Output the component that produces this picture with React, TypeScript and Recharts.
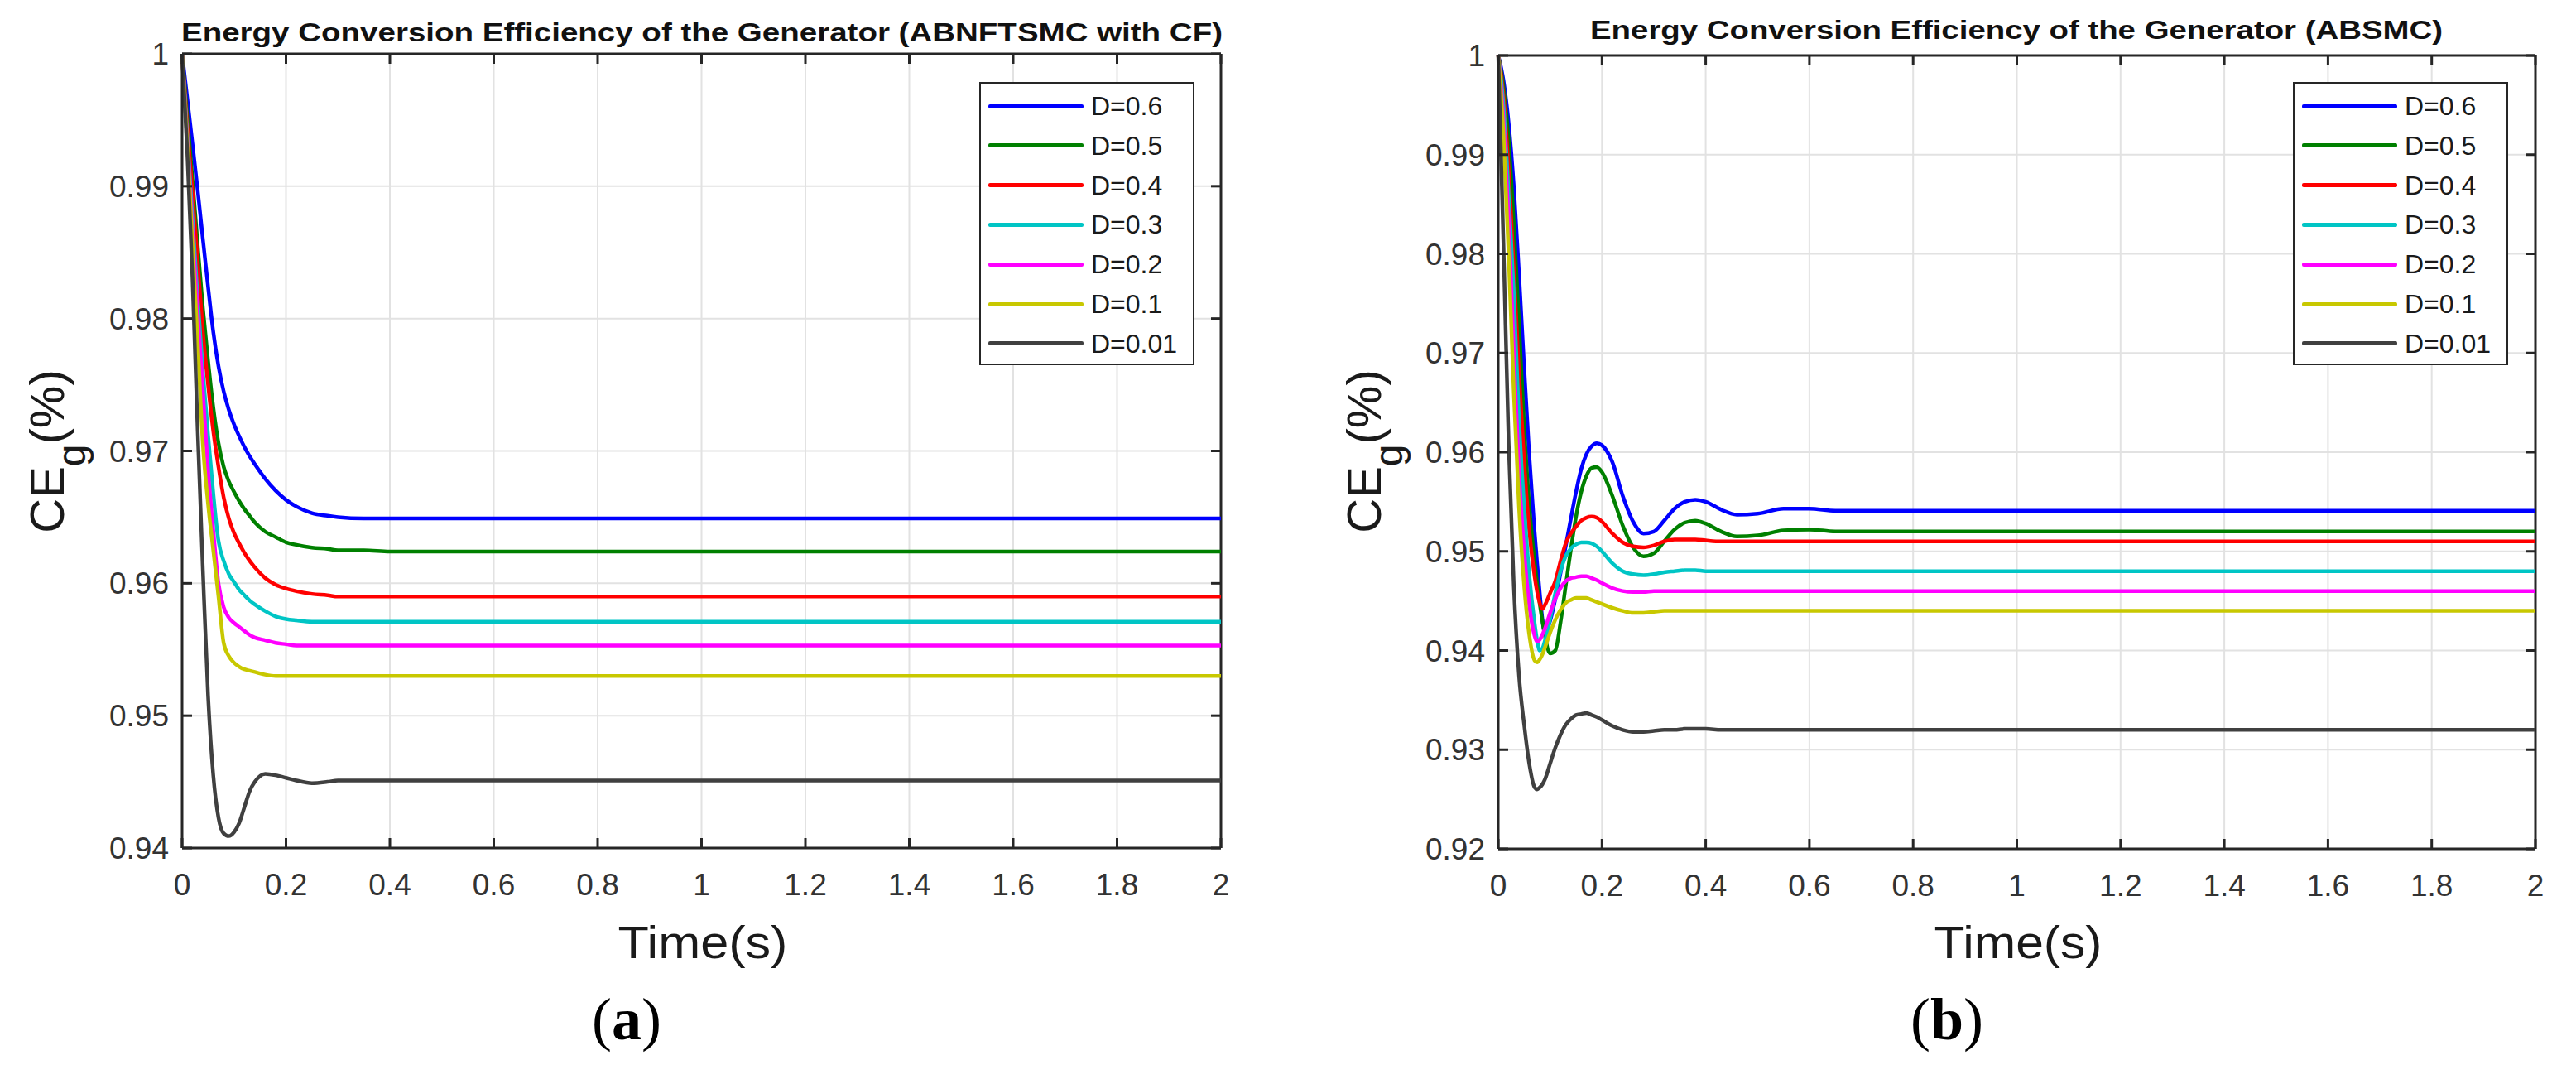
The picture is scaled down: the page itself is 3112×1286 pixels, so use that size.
import React from 'react';
import { LineChart, Line, XAxis, YAxis, CartesianGrid, Legend, ReferenceLine } from 'recharts';

// ---------- data ----------
const SERIES_NAMES = ['D=0.6', 'D=0.5', 'D=0.4', 'D=0.3', 'D=0.2', 'D=0.1', 'D=0.01'];
const SERIES_KEYS = ['d06', 'd05', 'd04', 'd03', 'd02', 'd01', 'd001'];
const SERIES_COLORS = ['#0000FF', '#008000', '#FF0000', '#00C5C5', '#FF00FF', '#C8C800', '#404040'];

const X_TICKS = [0, 0.2, 0.4, 0.6, 0.8, 1, 1.2, 1.4, 1.6, 1.8, 2];
const Y_TICKS_A = [0.94, 0.95, 0.96, 0.97, 0.98, 0.99, 1];
const Y_TICKS_B = [0.92, 0.93, 0.94, 0.95, 0.96, 0.97, 0.98, 0.99, 1];

// (a) ABNFTSMC with CF
const TIME_A = [0, 0.01, 0.02, 0.03, 0.04, 0.05, 0.06, 0.07, 0.08, 0.09, 0.1, 0.11, 0.12, 0.13, 0.14, 0.16, 0.18, 0.2, 0.22, 0.25, 0.28, 0.3, 0.35, 0.4, 0.5, 0.7, 1.0, 1.5, 2.0];
const A_D06 = [1, 0.9966, 0.9932, 0.9897, 0.986, 0.9824, 0.979, 0.9764, 0.9745, 0.9731, 0.972, 0.9711, 0.9703, 0.9696, 0.969, 0.9679, 0.967, 0.9663, 0.9658, 0.9653, 0.9651, 0.965, 0.9649, 0.9649, 0.9649, 0.9649, 0.9649, 0.9649, 0.9649];
const A_D05 = [1, 0.9952, 0.9905, 0.9855, 0.9808, 0.9768, 0.9733, 0.9706, 0.9688, 0.9677, 0.9669, 0.9662, 0.9656, 0.9651, 0.9646, 0.9639, 0.9635, 0.9631, 0.9629, 0.9627, 0.9626, 0.9625, 0.9625, 0.9624, 0.9624, 0.9624, 0.9624, 0.9624, 0.9624];
const A_D04 = [1, 0.9945, 0.9895, 0.9843, 0.979, 0.975, 0.9715, 0.9688, 0.9665, 0.9649, 0.9638, 0.963, 0.9623, 0.9617, 0.9612, 0.9604, 0.9599, 0.9596, 0.9594, 0.9592, 0.9591, 0.959, 0.959, 0.959, 0.959, 0.959, 0.959, 0.959, 0.959];
const A_D03 = [1, 0.9938, 0.9875, 0.9815, 0.976, 0.9712, 0.9668, 0.9632, 0.9617, 0.9607, 0.9601, 0.9595, 0.9591, 0.9587, 0.9584, 0.9579, 0.9575, 0.9573, 0.9572, 0.9571, 0.9571, 0.9571, 0.9571, 0.9571, 0.9571, 0.9571, 0.9571, 0.9571, 0.9571];
const A_D02 = [1, 0.9935, 0.9865, 0.9805, 0.9745, 0.9685, 0.964, 0.96, 0.9582, 0.9574, 0.957, 0.9567, 0.9564, 0.9561, 0.9559, 0.9557, 0.9555, 0.9554, 0.9553, 0.9553, 0.9553, 0.9553, 0.9553, 0.9553, 0.9553, 0.9553, 0.9553, 0.9553, 0.9553];
const A_D01 = [1, 0.9932, 0.9855, 0.9782, 0.9705, 0.966, 0.9625, 0.959, 0.9555, 0.9545, 0.954, 0.9537, 0.9535, 0.9534, 0.9533, 0.9531, 0.953, 0.953, 0.953, 0.953, 0.953, 0.953, 0.953, 0.953, 0.953, 0.953, 0.953, 0.953, 0.953];
const A_D001 = [1, 0.9925, 0.983, 0.9715, 0.961, 0.9515, 0.9455, 0.9423, 0.9411, 0.9409, 0.9412, 0.9419, 0.9431, 0.9443, 0.945, 0.9456, 0.9455, 0.9453, 0.9451, 0.9449, 0.945, 0.9451, 0.9451, 0.9451, 0.9451, 0.9451, 0.9451, 0.9451, 0.9451];

// (b) ABSMC
const TIME_B = [0, 0.01, 0.02, 0.03, 0.04, 0.05, 0.06, 0.07, 0.075, 0.08, 0.085, 0.09, 0.1, 0.11, 0.12, 0.13, 0.14, 0.15, 0.16, 0.17, 0.18, 0.19, 0.2, 0.22, 0.24, 0.26, 0.28, 0.3, 0.32, 0.34, 0.36, 0.38, 0.4, 0.43, 0.46, 0.5, 0.55, 0.6, 0.65, 0.7, 0.8, 1.0, 1.5, 2.0];
const B_D06 = [1, 0.9975, 0.9932, 0.9868, 0.978, 0.9685, 0.9595, 0.952, 0.9488, 0.9458, 0.9432, 0.9418, 0.943, 0.9452, 0.9478, 0.9505, 0.9533, 0.956, 0.9583, 0.9598, 0.9606, 0.9609, 0.9607, 0.959, 0.9556, 0.953, 0.9518, 0.952, 0.9531, 0.9543, 0.955, 0.9552, 0.955, 0.9542, 0.9537, 0.9538, 0.9543, 0.9543, 0.9541, 0.9541, 0.9541, 0.9541, 0.9541, 0.9541];
const B_D05 = [1, 0.9968, 0.9915, 0.983, 0.973, 0.9625, 0.9545, 0.949, 0.9467, 0.9447, 0.943, 0.9415, 0.9397, 0.94, 0.9428, 0.9465, 0.9502, 0.9535, 0.956, 0.9576, 0.9584, 0.9585, 0.958, 0.9556, 0.9526, 0.9504, 0.9495, 0.9498, 0.951, 0.9522, 0.9529, 0.9531, 0.9528, 0.952, 0.9515, 0.9516, 0.9521, 0.9522, 0.952, 0.952, 0.952, 0.952, 0.952, 0.952];
const B_D04 = [1, 0.996, 0.9885, 0.9785, 0.968, 0.959, 0.952, 0.9475, 0.9459, 0.9448, 0.9442, 0.9446, 0.9458, 0.947, 0.949, 0.9508, 0.9518, 0.9525, 0.9531, 0.9534, 0.9535, 0.9534, 0.953, 0.9518, 0.9509, 0.9505, 0.9504, 0.9506, 0.951, 0.9512, 0.9512, 0.9512, 0.9511, 0.951, 0.951, 0.951, 0.951, 0.951, 0.951, 0.951, 0.951, 0.951, 0.951, 0.951];
const B_D03 = [1, 0.995, 0.986, 0.976, 0.9633, 0.9545, 0.9475, 0.9428, 0.941, 0.94, 0.9402, 0.941, 0.9432, 0.9458, 0.948, 0.9495, 0.9503, 0.9507, 0.9509, 0.9509, 0.9508, 0.9505, 0.95, 0.9488, 0.948, 0.9477, 0.9476, 0.9477, 0.9479, 0.948, 0.9481, 0.9481, 0.948, 0.948, 0.948, 0.948, 0.948, 0.948, 0.948, 0.948, 0.948, 0.948, 0.948, 0.948];
const B_D02 = [1, 0.9935, 0.9835, 0.97, 0.958, 0.95, 0.9445, 0.9415, 0.9409, 0.9411, 0.9416, 0.9422, 0.9438, 0.9452, 0.9463, 0.947, 0.9473, 0.9474, 0.9475, 0.9475, 0.9473, 0.9471, 0.9468, 0.9463, 0.946, 0.9459, 0.9459, 0.946, 0.946, 0.946, 0.946, 0.946, 0.946, 0.946, 0.946, 0.946, 0.946, 0.946, 0.946, 0.946, 0.946, 0.946, 0.946, 0.946];
const B_D01 = [1, 0.992, 0.98, 0.966, 0.9545, 0.9465, 0.9415, 0.939, 0.9388, 0.9391, 0.9396, 0.9403, 0.9418, 0.9431, 0.9441, 0.9448, 0.9451, 0.9453, 0.9453, 0.9453, 0.9451, 0.9449, 0.9447, 0.9443, 0.944, 0.9438, 0.9438, 0.9439, 0.944, 0.944, 0.944, 0.944, 0.944, 0.944, 0.944, 0.944, 0.944, 0.944, 0.944, 0.944, 0.944, 0.944, 0.944, 0.944];
const B_D001 = [1, 0.981, 0.961, 0.9465, 0.9375, 0.9325, 0.9285, 0.9262, 0.926, 0.9262, 0.9265, 0.927, 0.9286, 0.9302, 0.9315, 0.9325, 0.9331, 0.9335, 0.9336, 0.9337, 0.9335, 0.9333, 0.933, 0.9324, 0.932, 0.9318, 0.9318, 0.9319, 0.932, 0.932, 0.9321, 0.9321, 0.9321, 0.932, 0.932, 0.932, 0.932, 0.932, 0.932, 0.932, 0.932, 0.932, 0.932, 0.932];

function buildRows(time: number[], series: number[][]) {
  return time.map((t, i) => {
    const row: Record<string, number> = { t };
    SERIES_KEYS.forEach((k, j) => {
      row[k] = series[j][i];
    });
    return row;
  });
}

const ROWS_A = buildRows(TIME_A, [A_D06, A_D05, A_D04, A_D03, A_D02, A_D01, A_D001]);
const ROWS_B = buildRows(TIME_B, [B_D06, B_D05, B_D04, B_D03, B_D02, B_D01, B_D001]);

// ---------- styling ----------
const FONT = '"Liberation Sans", Arial, Helvetica, sans-serif';
const SERIF = '"Liberation Serif", "Times New Roman", serif';
const AXIS = '#262626';
const TICK_FILL = '#333333';
const TICK_FONT = 37;
const TICK_LEN = 12;
const X_TICK_MARGIN = 31;
const Y_TICK_MARGIN = 16;

const renderLegend = (props: any) => {
  const payload = [...(props.payload || [])].sort(
    (a: any, b: any) => SERIES_NAMES.indexOf(a.value) - SERIES_NAMES.indexOf(b.value)
  );
  return (
    <div
      style={{
        width: '100%',
        height: '100%',
        boxSizing: 'border-box',
        border: `2.5px solid ${AXIS}`,
        background: '#ffffff',
        position: 'relative',
        fontFamily: FONT,
      }}
    >
      {payload.map((entry: any, i: number) => (
        <div
          key={entry.value}
          style={{
            position: 'absolute',
            left: 0,
            top: 27 + i * 47.8 - 20,
            height: 40,
            display: 'flex',
            alignItems: 'center',
            whiteSpace: 'nowrap',
          }}
        >
          <div style={{ marginLeft: 9, width: 115, height: 5, background: entry.color, borderRadius: 2 }} />
          <span style={{ marginLeft: 9, fontSize: 32, color: '#1a1a1a', lineHeight: '40px' }}>{entry.value}</span>
        </div>
      ))}
    </div>
  );
};

// bottom-axis tick: label below, inward tick marks at bottom and top of the box
function makeXTick(plotTop: number) {
  return (props: any) => {
    const { x, y, payload } = props;
    const axisY = y - X_TICK_MARGIN;
    return (
      <g>
        <line x1={x} x2={x} y1={axisY} y2={axisY - TICK_LEN} stroke={AXIS} strokeWidth={3} />
        <line x1={x} x2={x} y1={plotTop} y2={plotTop + TICK_LEN} stroke={AXIS} strokeWidth={3} />
        <text x={x} y={y} dy="0.71em" textAnchor="middle" fontFamily={FONT} fontSize={TICK_FONT} fill={TICK_FILL}>
          {String(payload.value)}
        </text>
      </g>
    );
  };
}

// left-axis tick: label left, inward tick marks at left and right of the box
function makeYTick(plotRight: number) {
  return (props: any) => {
    const { x, y, payload } = props;
    const axisX = x + Y_TICK_MARGIN;
    return (
      <g>
        <line x1={axisX} x2={axisX + TICK_LEN} y1={y} y2={y} stroke={AXIS} strokeWidth={3} />
        <line x1={plotRight} x2={plotRight - TICK_LEN} y1={y} y2={y} stroke={AXIS} strokeWidth={3} />
        <text x={x} y={y} dy="0.355em" textAnchor="end" fontFamily={FONT} fontSize={TICK_FONT} fill={TICK_FILL}>
          {String(payload.value)}
        </text>
      </g>
    );
  };
}

type PanelProps = {
  rows: Record<string, number>[];
  width: number;
  height: number;
  margin: { top: number; right: number; bottom: number; left: number };
  yWidth: number;
  yDomain: [number, number];
  yTicks: number[];
  legendLeft: number;
  legendTop: number;
};

function Panel({ rows, width, height, margin, yWidth, yDomain, yTicks, legendLeft, legendTop }: PanelProps) {
  const axisLine = { stroke: AXIS, strokeWidth: 3 };
  const plotRight = width - margin.right;
  return (
    <LineChart width={width} height={height} data={rows} margin={margin}>
      <CartesianGrid stroke="#e2e2e2" strokeWidth={2} />
      <XAxis
        dataKey="t"
        type="number"
        domain={[0, 2]}
        ticks={X_TICKS}
        interval={0}
        tickLine={false}
        tickSize={0}
        tickMargin={X_TICK_MARGIN}
        height={80}
        axisLine={axisLine}
        tick={makeXTick(margin.top)}
      />
      <YAxis
        type="number"
        domain={yDomain}
        ticks={yTicks}
        interval={0}
        tickLine={false}
        tickSize={0}
        tickMargin={Y_TICK_MARGIN}
        width={yWidth}
        axisLine={axisLine}
        tick={makeYTick(plotRight)}
      />
      <ReferenceLine y={yDomain[1]} stroke={AXIS} strokeWidth={3} />
      <ReferenceLine x={2} stroke={AXIS} strokeWidth={3} />
      <Legend
        layout="vertical"
        align="center"
        verticalAlign="middle"
        content={renderLegend}
        wrapperStyle={{ position: 'absolute', left: legendLeft, top: legendTop, width: 260, height: 342 }}
      />
      {SERIES_KEYS.map((k, i) => (
        <Line
          key={k}
          type="monotone"
          dataKey={k}
          name={SERIES_NAMES[i]}
          stroke={SERIES_COLORS[i]}
          strokeWidth={4.5}
          dot={false}
          activeDot={false}
          isAnimationActive={false}
        />
      ))}
    </LineChart>
  );
}

export default function App() {
  return (
    <div style={{ position: 'absolute', left: 0, top: 0, width: 3112, height: 1286, background: '#ffffff', overflow: 'hidden' }}>
      <div style={{ position: 'absolute', left: 0, top: 0 }}>
        <Panel
          rows={ROWS_A}
          width={1560}
          height={1286}
          margin={{ top: 65, right: 85, bottom: 182, left: 0 }}
          yWidth={220}
          yDomain={[0.94, 1]}
          yTicks={Y_TICKS_A}
          legendLeft={1183}
          legendTop={99}
        />
      </div>
      <div style={{ position: 'absolute', left: 1560, top: 0 }}>
        <Panel
          rows={ROWS_B}
          width={1552}
          height={1286}
          margin={{ top: 67, right: 49, bottom: 181, left: 0 }}
          yWidth={250}
          yDomain={[0.92, 1]}
          yTicks={Y_TICKS_B}
          legendLeft={1210}
          legendTop={99}
        />
      </div>
      <svg
        width={3112}
        height={1286}
        style={{ position: 'absolute', left: 0, top: 0, pointerEvents: 'none' }}
      >
        <text x={848} y={50} textAnchor="middle" fontFamily={FONT} fontWeight="bold" fontSize={31} fill="#111" textLength={1258} lengthAdjust="spacingAndGlyphs">
          Energy Conversion Efficiency of the Generator (ABNFTSMC with CF)
        </text>
        <text x={2436} y={47} textAnchor="middle" fontFamily={FONT} fontWeight="bold" fontSize={31} fill="#111" textLength={1030} lengthAdjust="spacingAndGlyphs">
          Energy Conversion Efficiency of the Generator (ABSMC)
        </text>

        <text transform="translate(77,545) rotate(-90)" textAnchor="middle" fontFamily={FONT} fontSize={58} fill="#1a1a1a">
          CE<tspan fontSize={48} dy={26}>g</tspan><tspan dy={-26}>(%)</tspan>
        </text>
        <text transform="translate(1668,545) rotate(-90)" textAnchor="middle" fontFamily={FONT} fontSize={58} fill="#1a1a1a">
          CE<tspan fontSize={48} dy={26}>g</tspan><tspan dy={-26}>(%)</tspan>
        </text>

        <text x={849} y={1157} textAnchor="middle" fontFamily={FONT} fontSize={56} fill="#1a1a1a" textLength={205} lengthAdjust="spacingAndGlyphs">
          Time(s)
        </text>
        <text x={2438} y={1157} textAnchor="middle" fontFamily={FONT} fontSize={56} fill="#1a1a1a" textLength={203} lengthAdjust="spacingAndGlyphs">
          Time(s)
        </text>

        <text x={757} y={1255} textAnchor="middle" fontFamily={SERIF} fontSize={72} fill="#000">
          (<tspan fontWeight="bold">a</tspan>)
        </text>
        <text x={2352} y={1255} textAnchor="middle" fontFamily={SERIF} fontSize={72} fill="#000">
          (<tspan fontWeight="bold">b</tspan>)
        </text>
      </svg>
    </div>
  );
}
